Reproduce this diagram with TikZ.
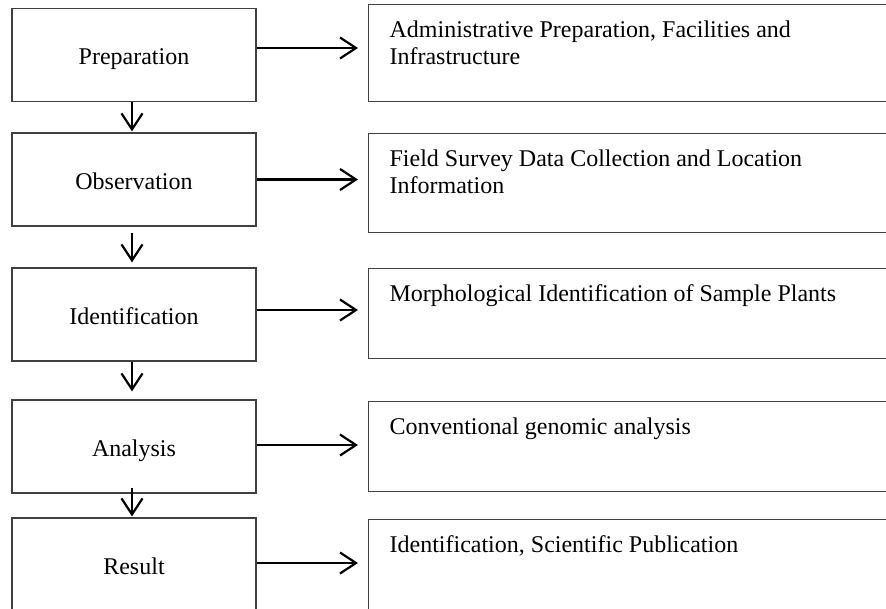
\documentclass[tikz,border=0pt]{standalone}
\usepackage{fontspec}
\setmainfont{Liberation Serif}
\usetikzlibrary{arrows.meta}
\newcommand\dfont{\fontsize{24}{27}\selectfont}
\begin{document}
\begin{tikzpicture}[x=1pt,y=-1pt,
  boxline/.style={draw=black!75, line width=1.2pt},
  lbox/.style={boxline, minimum width=244pt, minimum height=93pt, inner sep=0pt, text height=19pt, text depth=0pt, font=\dfont},
  rbox/.style={boxline, anchor=north west, align=flush left, text width=480pt, inner xsep=21pt, inner ysep=14pt, text height=19pt, font=\dfont},
  flow/.style={line width=2.2pt, -{Straight Barb[length=16pt,width=21pt]}},
]
\useasboundingbox (0,0) rectangle (886,608);
\clip (0,0) rectangle (886,608);

\node[lbox] (L1) at (134,55) {Preparation};
\node[lbox] (L2) at (134,179.5) {Observation};
\node[lbox] (L3) at (134,314.5) {Identification};
\node[lbox] (L4) at (134,446.5) {Analysis};
\node[lbox] (L5) at (134,564.5) {Result};

\node[rbox, text depth=50pt] (R1) at (368,4) {Administrative Preparation, Facilities and\\Infrastructure};
\node[rbox, text depth=52pt] (R2) at (368,133) {Field Survey Data Collection and Location\\Information};
\node[rbox, text depth=43pt] (R3) at (368,268) {Morphological Identification of Sample Plants};
\node[rbox, text depth=43pt] (R4) at (368,401) {Conventional genomic analysis};
\node[rbox, text depth=46pt] (R5) at (368,519) {Identification, Scientific Publication};

\coordinate (h1) at ([yshift=7pt]L1.east);
\coordinate (h2) at ([yshift=0pt]L2.east);
\coordinate (h3) at ([yshift=4.5pt]L3.east);
\coordinate (h4) at ([yshift=1.5pt]L4.east);
\coordinate (h5) at ([yshift=1.5pt]L5.east);
\draw[flow, shorten >=10pt] (h1) -- (h1 -| R1.west);
\draw[flow, shorten >=10pt] (h2) -- (h2 -| R2.west);
\draw[flow, shorten >=10pt] (h3) -- (h3 -| R3.west);
\draw[flow, shorten >=10pt] (h4) -- (h4 -| R4.west);
\draw[flow, shorten >=10pt] (h5) -- (h5 -| R5.west);

\draw[flow, shorten >=1pt] ([xshift=-2pt]L1.south) -- ([xshift=-2pt]L2.north);
\draw[flow, shorten <=6pt, shorten >=5pt] ([xshift=-2pt]L2.south) -- ([xshift=-2pt]L3.north);
\draw[flow, shorten >=8pt] ([xshift=-2pt]L3.south) -- ([xshift=-2pt]L4.north);
\draw[flow, shorten <=-6pt, shorten >=1pt] ([xshift=-2pt]L4.south) -- ([xshift=-2pt]L5.north);
\end{tikzpicture}
\end{document}
